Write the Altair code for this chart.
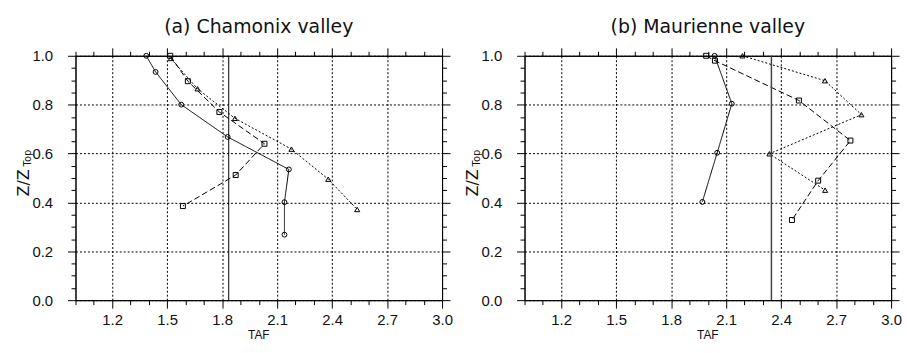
import altair as alt
import pandas as pd

series_names = ["circle", "square", "triangle"]

# ---- Panel (a) Chamonix valley ----
a_circle_x = [1.386, 1.437, 1.577, 1.830, 2.164, 2.140, 2.140]
a_circle_y = [1.000, 0.934, 0.800, 0.668, 0.535, 0.401, 0.268]
a_square_x = [1.517, 1.613, 1.785, 2.031, 1.874, 1.586]
a_square_y = [1.000, 0.896, 0.770, 0.640, 0.512, 0.385]
a_tri_x = [1.520, 1.666, 1.870, 2.178, 2.379, 2.537]
a_tri_y = [0.989, 0.865, 0.744, 0.618, 0.495, 0.371]
a_ref = [1.836]

# ---- Panel (b) Maurienne valley ----
b_circle_x = [2.037, 2.131, 2.051, 1.970]
b_circle_y = [1.000, 0.804, 0.603, 0.402]
b_square_x = [1.991, 2.039, 2.497, 2.778, 2.602, 2.459]
b_square_y = [1.000, 0.980, 0.817, 0.653, 0.489, 0.328]
b_tri_x = [2.189, 2.639, 2.838, 2.336, 2.640]
b_tri_y = [1.000, 0.898, 0.759, 0.599, 0.450]
b_ref = [2.347]

x_tick_values = [round(1.0 + 0.1 * i, 1) for i in range(21)]
y_tick_values = [round(0.05 * i, 2) for i in range(21)]

X_MAJOR = "round(datum.value * 10) % 3 == 0"
Y_MAJOR = "round(datum.value * 20) % 4 == 0"

W, H = 369, 246


def tick_size(test):
    return {"condition": {"test": test, "value": 8}, "value": 4.5}


def grid_op(test):
    return {"condition": {"test": test, "value": 1}, "value": 0}


def make_df(cx, cy, sx, sy, tx, ty):
    rows = []
    for name, xs, ys in (("circle", cx, cy), ("square", sx, sy), ("triangle", tx, ty)):
        for i, (x, y) in enumerate(zip(xs, ys)):
            rows.append({"series": name, "order": i, "taf": x, "z": y})
    return pd.DataFrame(rows)


def panel(title, df, ref, ref_color, ref_width):
    xsc = alt.Scale(domain=[1.0, 3.0], nice=False, zero=False)
    ysc = alt.Scale(domain=[0.0, 1.0], nice=False, zero=False)
    bottom = alt.Axis(orient="bottom", values=x_tick_values,
                      labelExpr=f"{X_MAJOR} ? format(datum.value, '.1f') : ''",
                      tickSize=tick_size(X_MAJOR), grid=True, gridOpacity=grid_op(X_MAJOR),
                      title=None, labelFlush=False, labelOverlap=False, labelPadding=5)
    left = alt.Axis(orient="left", values=y_tick_values,
                    labelExpr=f"{Y_MAJOR} ? format(datum.value, '.1f') : ''",
                    tickSize=tick_size(Y_MAJOR), grid=True, gridOpacity=grid_op(Y_MAJOR),
                    title=None, labelFlush=False, labelOverlap=False, labelPadding=15)
    top = alt.Axis(orient="top", values=x_tick_values, labels=False,
                   tickSize=tick_size(X_MAJOR), grid=False, title=None)
    right = alt.Axis(orient="right", values=y_tick_values, labels=False,
                     tickSize=tick_size(Y_MAJOR), grid=False, title=None)

    dash_scale = alt.Scale(domain=series_names, range=[[1, 0], [6, 3], [2, 2]])
    shape_scale = alt.Scale(domain=series_names, range=["circle", "square", "triangle-up"])
    size_scale = alt.Scale(domain=series_names, range=[24, 26, 28])

    base = alt.Chart(df)
    lines = base.mark_line(color="black", strokeWidth=1).encode(
        x=alt.X("taf:Q", scale=xsc, axis=bottom),
        y=alt.Y("z:Q", scale=ysc, axis=left),
        detail="series:N",
        order="order:Q",
        strokeDash=alt.StrokeDash("series:N", scale=dash_scale, legend=None),
    )
    points = base.mark_point(filled=False, color="black", strokeWidth=1, opacity=1).encode(
        x=alt.X("taf:Q", scale=xsc, axis=None),
        y=alt.Y("z:Q", scale=ysc, axis=None),
        shape=alt.Shape("series:N", scale=shape_scale, legend=None),
        size=alt.Size("series:N", scale=size_scale, legend=None),
    )
    frame = base.mark_point(opacity=0).encode(
        x=alt.X("taf:Q", scale=xsc, axis=top),
        y=alt.Y("z:Q", scale=ysc, axis=right),
    )
    rule = alt.Chart(pd.DataFrame({"taf": ref})).mark_rule(
        color=ref_color, strokeWidth=ref_width).encode(
        x=alt.X("taf:Q", scale=xsc, axis=None))

    ttl = alt.Chart(pd.DataFrame({"t": [title]})).mark_text(
        font="DejaVu Sans", fontSize=19, color="#111", baseline="middle", align="center"
    ).encode(text="t:N", x=alt.value(W / 2), y=alt.value(-29))
    xt = alt.Chart(pd.DataFrame({"t": ["TAF"]})).mark_text(
        font="Liberation Sans", fontSize=12, color="#111", baseline="middle", align="center"
    ).encode(text="t:N", x=alt.value(W / 2), y=alt.value(H + 35))
    yt1 = alt.Chart(pd.DataFrame({"t": ["Z/Z"]})).mark_text(
        font="DejaVu Sans", fontSize=16, color="#111", baseline="middle", align="center", angle=270
    ).encode(text="t:N", x=alt.value(-52), y=alt.value(128))
    yt2 = alt.Chart(pd.DataFrame({"t": ["Top"]})).mark_text(
        font="DejaVu Sans", fontSize=10, color="#111", baseline="middle", align="center", angle=270
    ).encode(text="t:N", x=alt.value(-48), y=alt.value(103))

    return alt.layer(lines, points, frame, rule, ttl, xt, yt1, yt2).properties(
        width=W, height=H
    ).resolve_axis(x="independent", y="independent")


df_a = make_df(a_circle_x, a_circle_y, a_square_x, a_square_y, a_tri_x, a_tri_y)
df_b = make_df(b_circle_x, b_circle_y, b_square_x, b_square_y, b_tri_x, b_tri_y)

pa = panel("(a)  Chamonix  valley", df_a, a_ref, "black", 1)
pb = panel("(b)  Maurienne  valley", df_b, b_ref, "#444", 1.5)

chart = alt.hconcat(pa, pb, spacing=83, bounds="flush").properties(
    padding={"left": 15, "top": 16, "right": 5, "bottom": 5},
    background="white",
).configure_view(stroke="black", strokeWidth=1).configure_axis(
    domainColor="black", domainWidth=1, tickColor="black", tickWidth=1,
    labelColor="#111", labelFont="Liberation Sans", labelFontSize=15,
    gridColor="black", gridDash=[2, 2], gridWidth=1,
)

chart.save("out.html", embed_options={"renderer": "svg", "actions": False})
